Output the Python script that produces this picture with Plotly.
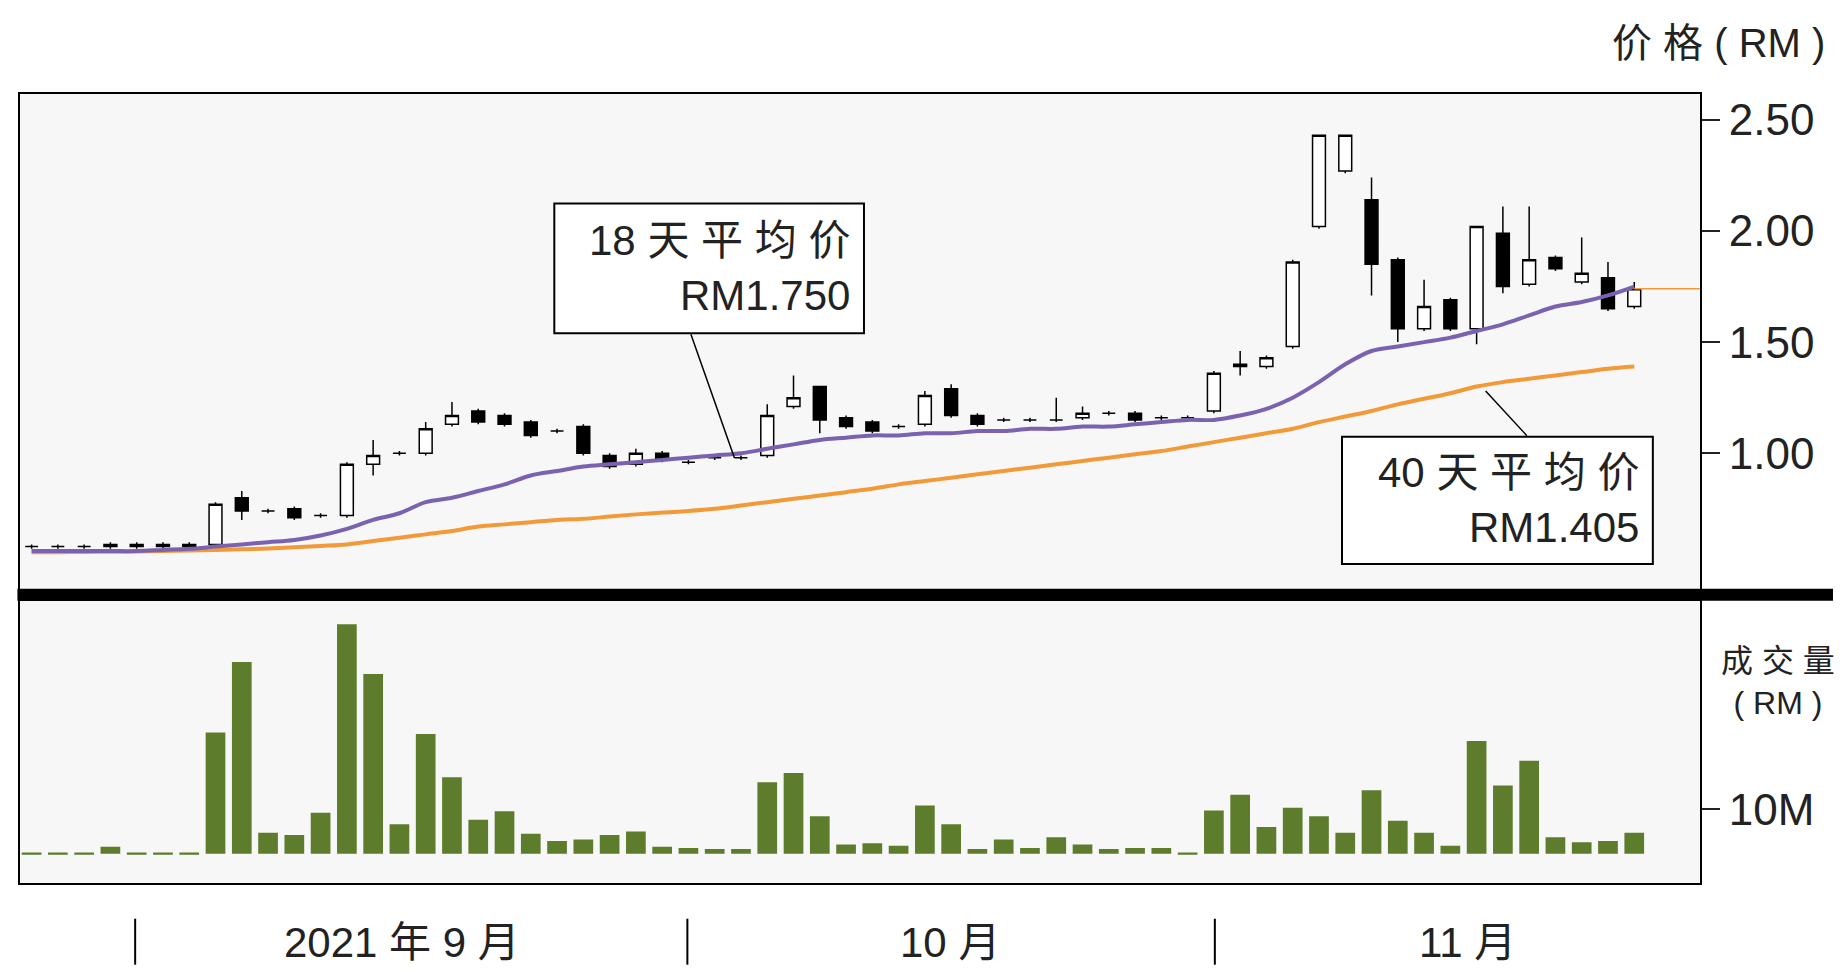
import plotly.graph_objects as go

# data (day index 0..61)
days = list(range(62))
opens = [.58,.58,.58,.58,.58,.58,.58,.59,.80,.74,.75,.72,.72,.95,1.00,1.00,1.13,1.19,1.17,1.14,1.10,1.12,.99,.95,1.00,.96,.98,.98,.99,1.21,1.30,1.16,1.14,1.12,1.13,1.29,1.17,1.15,1.15,1.15,1.16,1.18,1.18,1.16,1.16,1.19,1.39,1.39,1.48,2.02,2.27,2.14,1.87,1.56,1.69,1.56,1.99,1.76,1.88,1.77,1.79,1.66]
closes = [.58,.58,.58,.59,.59,.59,.59,.77,.74,.74,.71,.72,.95,.99,1.00,1.11,1.17,1.14,1.13,1.08,1.10,1.00,.94,1.00,.97,.96,.98,.98,1.17,1.25,1.15,1.12,1.10,1.12,1.26,1.17,1.13,1.15,1.15,1.15,1.18,1.18,1.15,1.16,1.16,1.36,1.40,1.43,1.86,2.43,2.43,1.85,1.56,1.66,1.56,2.02,1.75,1.87,1.83,1.81,1.65,1.74]
highs = [.59,.59,.59,.60,.60,.60,.60,.78,.83,.75,.76,.73,.96,1.06,1.01,1.14,1.23,1.20,1.18,1.15,1.11,1.13,1.00,1.02,1.01,.97,.99,.99,1.22,1.35,1.30,1.17,1.15,1.13,1.28,1.31,1.18,1.16,1.16,1.25,1.21,1.19,1.19,1.17,1.17,1.37,1.46,1.44,1.87,2.43,2.43,2.24,1.88,1.78,1.70,2.02,2.11,2.11,1.89,1.97,1.86,1.77]
lows = [.57,.57,.57,.57,.57,.57,.57,.58,.70,.73,.70,.71,.71,.90,.99,.99,1.12,1.13,1.12,1.07,1.09,.99,.93,.94,.96,.95,.97,.97,.98,1.20,1.09,1.11,1.09,1.11,1.12,1.16,1.12,1.14,1.14,1.14,1.15,1.17,1.14,1.15,1.15,1.18,1.35,1.38,1.47,2.01,2.26,1.71,1.50,1.55,1.55,1.49,1.72,1.75,1.82,1.76,1.64,1.65]
ma18 = [.56,.56,.56,.56,.56,.565,.57,.58,.59,.60,.61,.63,.66,.70,.73,.78,.80,.83,.86,.90,.92,.94,.95,.96,.97,.98,.99,1.00,1.02,1.04,1.06,1.07,1.08,1.08,1.09,1.09,1.10,1.10,1.11,1.11,1.12,1.12,1.13,1.14,1.15,1.15,1.17,1.20,1.25,1.32,1.40,1.46,1.48,1.50,1.52,1.55,1.58,1.62,1.66,1.68,1.71,1.75]
ma40 = [.555,.555,.556,.557,.558,.56,.562,.565,.568,.572,.577,.583,.59,.605,.62,.635,.65,.67,.68,.69,.70,.705,.715,.725,.733,.74,.75,.765,.78,.795,.81,.825,.84,.86,.875,.89,.905,.92,.935,.95,.965,.98,.995,1.01,1.03,1.05,1.07,1.09,1.11,1.14,1.165,1.19,1.22,1.245,1.27,1.30,1.32,1.335,1.35,1.365,1.38,1.39]
volume_m = [0.3,0.3,0.3,1.6,0.3,0.3,0.3,27.1,42.9,4.7,4.2,9.2,51.3,40.2,6.6,26.8,17.1,7.6,9.5,4.5,2.9,3.2,4.2,5.0,1.6,1.3,1.1,1.1,16.0,18.1,8.4,2.1,2.4,1.8,10.8,6.6,1.1,3.2,1.3,3.7,2.1,1.1,1.3,1.3,0.3,9.7,13.2,6.0,10.3,8.4,4.7,14.2,7.4,4.7,1.8,25.2,15.3,20.8,3.7,2.6,2.9,4.7]
price_ticks = [1.0, 1.5, 2.0, 2.5]
price_labels = ["1.00", "1.50", "2.00", "2.50"]
month_labels = ["2021 年 9 月", "10 月", "11 月"]

W, H = 1567.0, 825.0  # reference layout units
def px(x): return x / W
def py(y): return 1 - y / H

FONT = "Liberation Sans, Noto Sans CJK SC, sans-serif"

fig = go.Figure()
fig.add_trace(go.Candlestick(
    x=days, open=opens, high=highs, low=lows, close=closes,
    increasing=dict(fillcolor="white", line=dict(color="black", width=1.5)),
    decreasing=dict(fillcolor="black", line=dict(color="black", width=1.5)),
    whiskerwidth=0, xaxis="x", yaxis="y", showlegend=False, hoverinfo="skip"))
fig.add_trace(go.Scatter(x=days, y=ma40, mode="lines", line=dict(color="#f29a38", width=4, shape="spline"),
                         xaxis="x", yaxis="y", showlegend=False))
fig.add_trace(go.Scatter(x=days, y=ma18, mode="lines", line=dict(color="#7b62b0", width=4, shape="spline"),
                         xaxis="x", yaxis="y", showlegend=False))
fig.add_trace(go.Bar(x=days, y=volume_m, marker=dict(color="#5e7d2c", line=dict(width=0)),
                     width=0.75, xaxis="x2", yaxis="y2", showlegend=False))

xr = [-0.45, 63.5]
fig.update_layout(
    width=1845, height=972, margin=dict(l=0, r=0, t=0, b=0),
    paper_bgcolor="white", plot_bgcolor="#f7f7f7",
    font=dict(family=FONT, color="#222"),
    xaxis=dict(domain=[px(10), px(1437)], range=xr, showticklabels=False, showgrid=False,
               zeroline=False, rangeslider=dict(visible=False), anchor="y",
               showline=True, mirror=True, linecolor="black", linewidth=2),
    xaxis2=dict(domain=[px(10), px(1437)], range=xr, showticklabels=False, showgrid=False,
                zeroline=False, anchor="y2",
                showline=True, mirror=True, linecolor="black", linewidth=2),
    yaxis=dict(domain=[py(493), py(73)], range=[0.39, 2.616], side="right", anchor="x",
               tickvals=price_ticks, ticktext=price_labels, ticks="outside", ticklen=18,
               tickwidth=2, tickcolor="#222", showgrid=False, zeroline=False,
               tickfont=dict(size=44, family=FONT),
               showline=True, mirror=True, linecolor="black", linewidth=2),
    yaxis2=dict(domain=[py(743), py(503)], range=[-6.6, 56.6], side="right", anchor="x2",
                tickvals=[10], ticktext=["10M"], ticks="outside", ticklen=18,
                tickwidth=2, tickcolor="#222", showgrid=False, zeroline=False,
                tickfont=dict(size=44, family=FONT),
                showline=True, mirror=True, linecolor="black", linewidth=2),
    bargap=0.25,
)

# thick separator between panels
fig.add_shape(type="rect", xref="paper", yref="paper", x0=px(8), x1=px(1550),
              y0=py(503), y1=py(493), fillcolor="black", line=dict(width=0))
# small orange marker at right edge
fig.add_shape(type="line", xref="x", yref="y", x0=61, x1=63.5, y0=1.74, y1=1.74,
              line=dict(color="#f29a38", width=1.5))

# callout boxes
for (x0, y0, x1, y1, txt, lx0, ly0, lx1, ly1) in [
    (464, 166, 727, 276, "18 天 平 均 价<br>RM1.750", 580, 277, 617, 382),
    (1133, 364, 1397, 472, "40 天 平 均 价<br>RM1.405", 1290, 363, 1255, 325),
]:
    fig.add_shape(type="rect", xref="paper", yref="paper", x0=px(x0), x1=px(x1),
                  y0=py(y1), y1=py(y0), fillcolor="white", line=dict(color="black", width=2))
    fig.add_shape(type="line", xref="paper", yref="paper", x0=px(lx0), x1=px(lx1),
                  y0=py(ly0), y1=py(ly1), line=dict(color="black", width=1.5))
    fig.add_annotation(xref="paper", yref="paper", x=px(x1 - 10), y=py((y0 + y1) / 2),
                       xanchor="right", yanchor="middle", align="right", showarrow=False,
                       text=txt, font=dict(size=42, family=FONT, color="#222"))

# axis titles
fig.add_annotation(xref="paper", yref="paper", x=px(1545), y=py(30), xanchor="right",
                   yanchor="middle", showarrow=False, text="价 格 ( RM )",
                   font=dict(size=40, family=FONT, color="#222"))
fig.add_annotation(xref="paper", yref="paper", x=px(1503), y=py(572), xanchor="center",
                   yanchor="middle", showarrow=False, text="成 交 量<br>( RM )",
                   font=dict(size=32, family=FONT, color="#222"))

# month labels and separators
for x, lab in zip([335, 800, 1240], month_labels):
    fig.add_annotation(xref="paper", yref="paper", x=px(x), y=py(793), xanchor="center",
                       yanchor="middle", showarrow=False, text=lab,
                       font=dict(size=42, family=FONT, color="#222"))
for x in [108, 577, 1025]:
    fig.add_shape(type="line", xref="paper", yref="paper", x0=px(x), x1=px(x),
                  y0=py(812), y1=py(773), line=dict(color="black", width=2))

fig.write_html("out.html")
